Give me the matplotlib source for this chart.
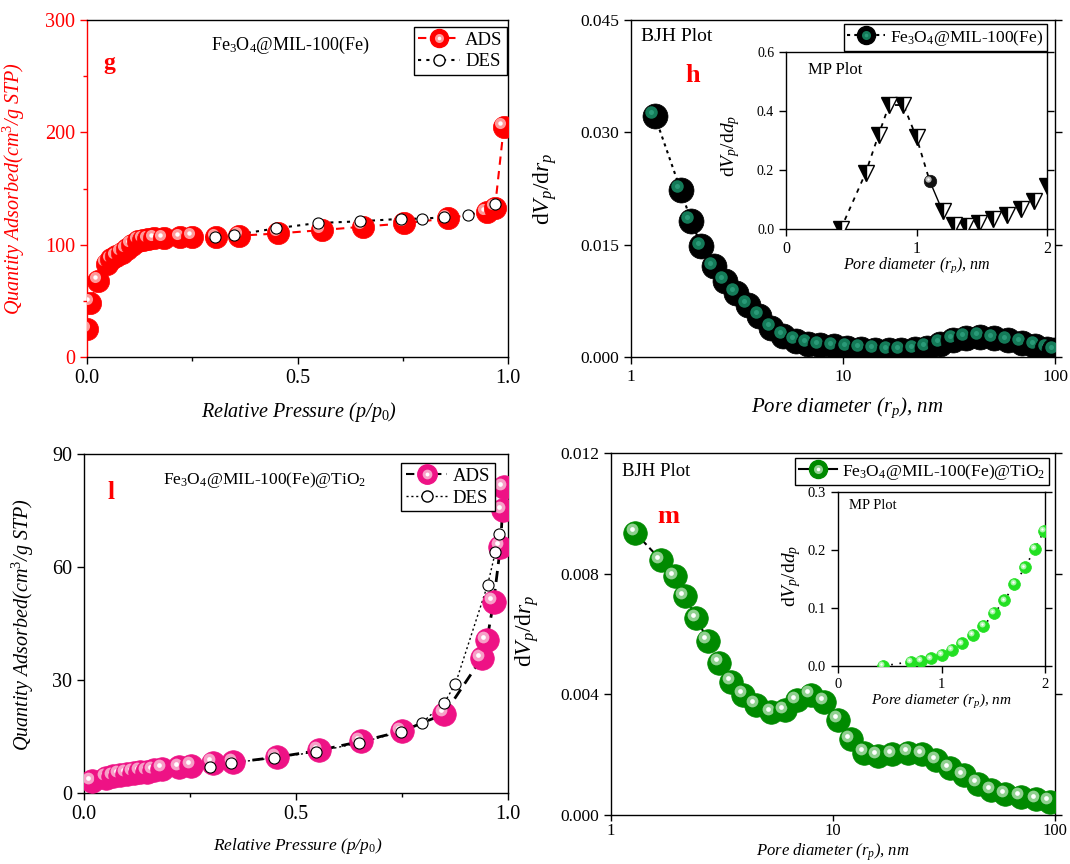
import matplotlib
matplotlib.use("Agg")
import matplotlib.pyplot as plt
from matplotlib.lines import Line2D
from matplotlib.legend_handler import HandlerTuple
from matplotlib.ticker import FixedLocator, NullLocator
import matplotlib.transforms as mtransforms

plt.rcParams['font.family'] = 'Liberation Serif'
plt.rcParams['mathtext.fontset'] = 'custom'
plt.rcParams['mathtext.rm'] = 'Liberation Serif'
plt.rcParams['mathtext.it'] = 'Liberation Serif:italic'
plt.rcParams['mathtext.bf'] = 'Liberation Serif:bold'
plt.rcParams['axes.linewidth'] = 1.0

# ---- (g) Fe3O4@MIL-100(Fe) isotherm
g_ads_p = [0.001, 0.008, 0.026, 0.047, 0.058, 0.07, 0.082, 0.094, 0.106, 0.122, 0.134,
           0.146, 0.16, 0.182, 0.222, 0.25, 0.307, 0.361, 0.454, 0.557, 0.655, 0.754,
           0.857, 0.949, 0.969, 0.99]
g_ads_q = [25, 48.5, 68, 83, 87, 90, 93, 96, 100, 103.6, 104.5, 105, 105.6, 106, 106.5,
           107, 106.5, 108, 110, 113, 116, 119, 123.5, 129, 133, 205]
g_des_p = [0.303, 0.349, 0.45, 0.548, 0.648, 0.745, 0.795, 0.849, 0.904, 0.969]
g_des_q = [107, 108.6, 114.6, 119.3, 120.8, 123, 123.2, 124.4, 126, 136.3]

# ---- (h) BJH of Fe3O4@MIL-100(Fe)
h_d = [1.295, 1.715, 1.92, 2.15, 2.46, 2.77, 3.12, 3.56, 4.03, 4.59, 5.24, 5.97, 6.81,
       7.76, 9.02, 10.48, 12.17, 14.13, 16.4, 18.7, 21.8, 24.8, 28.8, 33.2, 38.1, 44.3,
       51.5, 59.8, 69.5, 80.8, 92.1, 99.3]
h_dv = [0.0322, 0.0223, 0.0182, 0.01478, 0.0121, 0.01018, 0.00853, 0.00696, 0.00549,
        0.00393, 0.00281, 0.00214, 0.00179, 0.00156, 0.00143, 0.00125, 0.00112, 0.00098,
        0.00089, 0.00089, 0.00103, 0.00125, 0.00179, 0.00228, 0.00259, 0.00268, 0.0025,
        0.00223, 0.00187, 0.00147, 0.00112, 0.00089]
# MP inset
h_mp_d = [0.42, 0.61, 0.71, 0.79, 0.90, 1.0, 1.20, 1.29, 1.38, 1.48, 1.59, 1.69, 1.80,
          1.90, 2.0]
h_mp_dv = [0.0, 0.19, 0.32, 0.42, 0.42, 0.31, 0.06, 0.015, 0.009, 0.02, 0.034, 0.049,
           0.066, 0.094, 0.145]
h_mp_ball_d = [1.10]
h_mp_ball_dv = [0.164]

# ---- (l) Fe3O4@MIL-100(Fe)@TiO2 isotherm
l_ads_p = [0.018, 0.053, 0.069, 0.085, 0.101, 0.117, 0.133, 0.149, 0.165, 0.185, 0.225,
           0.253, 0.304, 0.352, 0.454, 0.554, 0.653, 0.75, 0.85, 0.938, 0.95, 0.966,
           0.982, 0.987, 0.99]
l_ads_q = [3.1, 4.0, 4.4, 4.9, 5.1, 5.3, 5.6, 5.7, 6.0, 6.4, 6.8, 7.2, 8.0, 8.1, 9.5,
           11.3, 13.7, 16.4, 21.0, 35.8, 40.5, 50.7, 65.4, 75.0, 81.2]
l_des_p = [0.296, 0.346, 0.449, 0.547, 0.649, 0.747, 0.798, 0.85, 0.876, 0.952, 0.97,
           0.978]
l_des_q = [6.9, 8.0, 9.3, 10.9, 13.3, 16.2, 18.7, 24.0, 29.0, 55.3, 63.9, 68.8]

# ---- (m) BJH of Fe3O4@MIL-100(Fe)@TiO2
m_d = [1.284, 1.678, 1.936, 2.154, 2.424, 2.736, 3.08, 3.49, 3.95, 4.48, 5.26, 6.06,
       6.87, 7.93, 9.14, 10.55, 12.04, 13.8, 15.9, 18.5, 21.8, 25.3, 29.2, 33.6, 38.8,
       44.8, 51.6, 59.6, 70.0, 82.2, 94.8]
m_dv = [0.00936, 0.00845, 0.00791, 0.00725, 0.00652, 0.00578, 0.00504, 0.00442, 0.00398,
        0.00365, 0.0034, 0.00347, 0.0038, 0.00398, 0.00376, 0.00316, 0.00251, 0.00207,
        0.00196, 0.00202, 0.00207, 0.00202, 0.00182, 0.00155, 0.00131, 0.00104, 0.00082,
        0.00069, 0.0006, 0.00052, 0.00044]
m_mp_d = [0.434, 0.707, 0.80, 0.90, 1.003, 1.10, 1.196, 1.30, 1.405, 1.508, 1.608, 1.704,
          1.807, 1.90, 1.99]
m_mp_dv = [0.0, 0.0075, 0.0092, 0.013, 0.019, 0.0276, 0.039, 0.0536, 0.069, 0.091, 0.113,
           0.141, 0.17, 0.2015, 0.233]

FE = r'Fe$_3$O$_4$@MIL-100(Fe)'
FETI = r'Fe$_3$O$_4$@MIL-100(Fe)@TiO$_2$'


def balls(ax, fig, xs, ys, base, hi, ms, z0=3, spot='white'):
    # shaded sphere: base disc + offset light spot, drawn point by point
    off = mtransforms.offset_copy(ax.transData, fig=fig, x=-ms * 0.15, y=ms * 0.15,
                                  units='points')
    for i, (x, y) in enumerate(zip(xs, ys)):
        z = z0 + i * 0.01
        ax.plot([x], [y], 'o', ms=ms, mfc=base, mec=base, mew=0.5, zorder=z)
        ax.plot([x], [y], 'o', ms=ms * 0.5, mfc=hi, mec='none', transform=off,
                zorder=z + 0.001)
        if spot:
            ax.plot([x], [y], 'o', ms=ms * 0.2, mfc=spot, mec='none', transform=off,
                    zorder=z + 0.002)


def ball_handle(base, hi, ms, ls, lc, spot='white'):
    a = Line2D([], [], color=lc, ls=ls, lw=1.5, marker='o', ms=ms, mfc=base, mec=base)
    b = Line2D([], [], ls='none', marker='o', ms=ms * 0.5, mfc=hi, mec='none')
    c = Line2D([], [], ls='none', marker='o', ms=ms * 0.2, mfc=spot or hi, mec='none')
    return (a, b, c)


def style(ax, lsize):
    ax.tick_params(direction='out', length=5, width=1, labelsize=lsize, right=True,
                   which='major')
    ax.tick_params(direction='out', length=3, width=1, which='minor', right=True)


HT = {tuple: HandlerTuple(ndivide=1)}

fig = plt.figure(figsize=(10.7, 8.64), dpi=100)

# ================= (g)
ax = fig.add_axes([0.0813, 0.5868, 0.3935, 0.390])
ax.plot(g_ads_p, g_ads_q, color='red', ls=(0, (4, 3)), lw=1.5, zorder=2)
ax.plot(g_des_p, g_des_q, color='black', ls=(0, (1.5, 2.5)), lw=1.5, zorder=2)
balls(ax, fig, g_ads_p, g_ads_q, '#ff0000', '#ff9a9a', 16)
ax.plot(g_des_p, g_des_q, 'o', ms=8, mfc='white', mec='black', mew=0.8, zorder=6)
ax.set_xlim(0, 1)
ax.set_ylim(0, 300)
ax.set_xticks([0, 0.5, 1.0])
ax.set_xticklabels(['0.0', '0.5', '1.0'])
ax.xaxis.set_minor_locator(FixedLocator([0.25, 0.75]))
ax.set_yticks([0, 100, 200, 300])
ax.yaxis.set_minor_locator(FixedLocator([50, 150, 250]))
style(ax, 14.5)
ax.tick_params(axis='y', which='both', colors='red', right=False)
ax.spines['left'].set_color('red')
ax.set_xlabel(r'Relative Pressure (p/p$_{\mathit{0}}$)', fontstyle='italic', fontsize=14.5)
ax.set_ylabel(r'Quantity Adsorbed(cm$^3$/g STP)', fontstyle='italic', fontsize=14.5,
              color='red')
ax.xaxis.set_label_coords(0.503, -0.128)
ax.yaxis.set_label_coords(-0.142, 0.5)
ax.text(0.484, 0.926, FE, transform=ax.transAxes, ha='center', va='center', fontsize=13)
ax.text(0.054, 0.87, 'g', transform=ax.transAxes, ha='center', va='center',
        fontsize=17, fontweight='bold', color='red')
h1 = ball_handle('#ff0000', '#ff9a9a', 13, (0, (4, 3)), 'red')
h2 = Line2D([], [], color='black', ls=(0, (1.5, 2.5)), lw=1.5, marker='o', ms=8,
            mfc='white', mec='black')
ax.legend([h1, h2], ['ADS', 'DES'], handler_map=HT,
          loc='upper right', bbox_to_anchor=(0.998, 0.98), borderaxespad=0,
          fontsize=13.5, handlelength=2.2, handletextpad=0.3, borderpad=0.25,
          labelspacing=0.25, fancybox=False, edgecolor='black', framealpha=1)

# ================= (h)
ax = fig.add_axes([0.5897, 0.5868, 0.3963, 0.390])
ax.plot(h_d, h_dv, color='black', ls=(0, (1.5, 2)), lw=1.5, zorder=2)
balls(ax, fig, h_d, h_dv, '#000000', '#147a58', 18, spot='#2a9a78')
ax.set_xscale('log')
ax.set_xlim(1, 100)
ax.set_ylim(0, 0.045)
ax.set_xticks([1, 10, 100])
ax.set_xticklabels(['1', '10', '100'])
ax.xaxis.set_minor_locator(NullLocator())
ax.set_yticks([0, 0.015, 0.030, 0.045])
ax.set_yticklabels(['0.000', '0.015', '0.030', '0.045'])
style(ax, 12.5)
ax.set_xlabel(r'Pore diameter ($r_p$), nm', fontstyle='italic', fontsize=15)
ax.set_ylabel(r'd$V_p$/d$r_p$', fontsize=17)
ax.xaxis.set_label_coords(0.51, -0.113)
ax.yaxis.set_label_coords(-0.17, 0.5)
ax.text(1.115, 0.0428, 'BJH Plot', ha='left', va='center', fontsize=14)
ax.text(1.96, 0.0376, 'h', ha='center', va='center', fontsize=19, fontweight='bold',
        color='red')
h1 = ball_handle('#000000', '#147a58', 13, (0, (1.5, 2)), 'black', spot='#2a9a78')
ax.legend([h1], [FE], handler_map=HT,
          loc='upper right', bbox_to_anchor=(0.981, 0.988), borderaxespad=0,
          fontsize=12.5, handlelength=2.2, handletextpad=0.3, borderpad=0.2,
          fancybox=False, edgecolor='black', framealpha=1)

# inset (h)
ax = fig.add_axes([0.7346, 0.735, 0.2439, 0.2049])
ax.plot(h_mp_d[:6] + h_mp_ball_d, h_mp_dv[:6] + h_mp_ball_dv, color='black',
        ls=(0, (2.5, 3)), lw=1.3, zorder=2)
ax.plot(h_mp_ball_d + h_mp_d[6:7], h_mp_ball_dv + h_mp_dv[6:7], color='black', lw=1.0,
        zorder=2)
ax.plot(h_mp_d, h_mp_dv, 'v', ms=11, fillstyle='left', mfc='black', mfcalt='white',
        mec='black', mew=1.0, ls='none', zorder=4)
balls(ax, fig, h_mp_ball_d, h_mp_ball_dv, '#111111', '#bbbbbb', 9, z0=5)
ax.set_xlim(0, 2)
ax.set_ylim(0, 0.6)
ax.set_xticks([0, 1, 2])
ax.set_yticks([0, 0.2, 0.4, 0.6])
ax.set_yticklabels(['0.0', '0.2', '0.4', '0.6'])
style(ax, 10.5)
ax.tick_params(labelsize=10, axis='y')
ax.tick_params(labelsize=11.5, axis='x')
ax.set_xlabel(r'Pore diameter ($r_p$), nm', fontstyle='italic', fontsize=11.5)
ax.set_ylabel(r'd$V_p$/d$d_p$', fontsize=14)
ax.xaxis.set_label_coords(0.5, -0.15)
ax.yaxis.set_label_coords(-0.17, 0.47)
ax.text(0.084, 0.9, 'MP Plot', transform=ax.transAxes, ha='left', va='center',
        fontsize=12)

# ================= (l)
ax = fig.add_axes([0.0785, 0.0822, 0.3963, 0.3924])
ax.plot(l_ads_p, l_ads_q, color='black', ls=(0, (4, 2.5)), lw=2.0, zorder=2)
ax.plot(l_des_p, l_des_q, color='black', ls=(0, (1.5, 2)), lw=1.0, zorder=2)
balls(ax, fig, l_ads_p, l_ads_q, '#ee1285', '#f7a0c8', 17)
ax.plot(l_des_p, l_des_q, 'o', ms=8, mfc='white', mec='black', mew=0.8, zorder=6)
ax.set_xlim(0, 1)
ax.set_ylim(0, 90)
ax.set_xticks([0, 0.5, 1.0])
ax.set_xticklabels(['0.0', '0.5', '1.0'])
ax.xaxis.set_minor_locator(FixedLocator([0.25, 0.75]))
ax.set_yticks([0, 30, 60, 90])
style(ax, 14.5)
ax.tick_params(right=False, which='both')
ax.set_xlabel(r'Relative Pressure (p/p$_{\mathit{0}}$)', fontstyle='italic', fontsize=12.5)
ax.set_ylabel(r'Quantity Adsorbed(cm$^3$/g STP)', fontstyle='italic', fontsize=14.5)
ax.xaxis.set_label_coords(0.505, -0.127)
ax.yaxis.set_label_coords(-0.113, 0.496)
ax.text(0.427, 0.923, FETI, transform=ax.transAxes, ha='center', va='center',
        fontsize=12.5)
ax.text(0.064, 0.885, 'l', transform=ax.transAxes, ha='center', va='center',
        fontsize=18, fontweight='bold', color='red')
h1 = ball_handle('#ee1285', '#f7a0c8', 14, (0, (4, 2.5)), 'black')
h2 = Line2D([], [], color='black', ls=(0, (1.5, 2)), lw=1.0, marker='o', ms=8,
            mfc='white', mec='black')
ax.legend([h1, h2], ['ADS', 'DES'], handler_map=HT,
          loc='upper right', bbox_to_anchor=(0.969, 0.973), borderaxespad=0,
          fontsize=13.5, handlelength=2.2, handletextpad=0.3, borderpad=0.25,
          labelspacing=0.25, fancybox=False, edgecolor='black', framealpha=1)

# ================= (m)
ax = fig.add_axes([0.571, 0.0567, 0.415, 0.419])
ax.plot(m_d, m_dv, color='black', ls=(0, (3, 2)), lw=1.5, zorder=2)
balls(ax, fig, m_d, m_dv, '#008a00', '#8fd08f', 17)
ax.set_xscale('log')
ax.set_xlim(1, 100)
ax.set_ylim(0, 0.012)
ax.set_xticks([1, 10, 100])
ax.set_xticklabels(['1', '10', '100'])
ax.xaxis.set_minor_locator(NullLocator())
ax.set_yticks([0, 0.004, 0.008, 0.012])
ax.set_yticklabels(['0.000', '0.004', '0.008', '0.012'])
style(ax, 12.5)
ax.tick_params(axis='x', length=4, pad=2, labelsize=12)
ax.set_xlabel(r'Pore diameter ($r_p$), nm', fontstyle='italic', fontsize=12)
ax.set_ylabel(r'd$V_p$/d$r_p$', fontsize=17)
ax.xaxis.set_label_coords(0.5, -0.102)
ax.xaxis.label.set_va('center')
ax.yaxis.set_label_coords(-0.158, 0.51)
ax.text(1.125, 0.01138, 'BJH Plot', ha='left', va='center', fontsize=13.5)
ax.text(1.82, 0.0099, 'm', ha='center', va='center', fontsize=19, fontweight='bold',
        color='red')
h1 = ball_handle('#008a00', '#8fd08f', 13, '-', 'black')
ax.legend([h1], [FETI], handler_map=HT,
          loc='upper right', bbox_to_anchor=(0.986, 0.986), borderaxespad=0,
          fontsize=12.5, handlelength=2.2, handletextpad=0.3, borderpad=0.2,
          fancybox=False, edgecolor='black', framealpha=1)

# inset (m)
ax = fig.add_axes([0.7832, 0.2292, 0.1935, 0.2014])
ax.plot(m_mp_d, m_mp_dv, color='black', ls=(0, (1, 4)), lw=1.2, zorder=2)
balls(ax, fig, m_mp_d, m_mp_dv, '#22e022', '#a8f5a8', 8.5)
ax.set_xlim(0, 2)
ax.set_ylim(0, 0.3)
ax.set_xticks([0, 1, 2])
ax.set_yticks([0, 0.1, 0.2, 0.3])
ax.set_yticklabels(['0.0', '0.1', '0.2', '0.3'])
style(ax, 10.5)
ax.set_xlabel(r'Pore diameter ($r_p$), nm', fontstyle='italic', fontsize=11)
ax.set_ylabel(r'd$V_p$/d$d_p$', fontsize=14)
ax.xaxis.set_label_coords(0.5, -0.15)
ax.yaxis.set_label_coords(-0.17, 0.52)
ax.text(0.055, 0.92, 'MP Plot', transform=ax.transAxes, ha='left', va='center',
        fontsize=10.5)

fig.savefig('out.png', dpi=100)
